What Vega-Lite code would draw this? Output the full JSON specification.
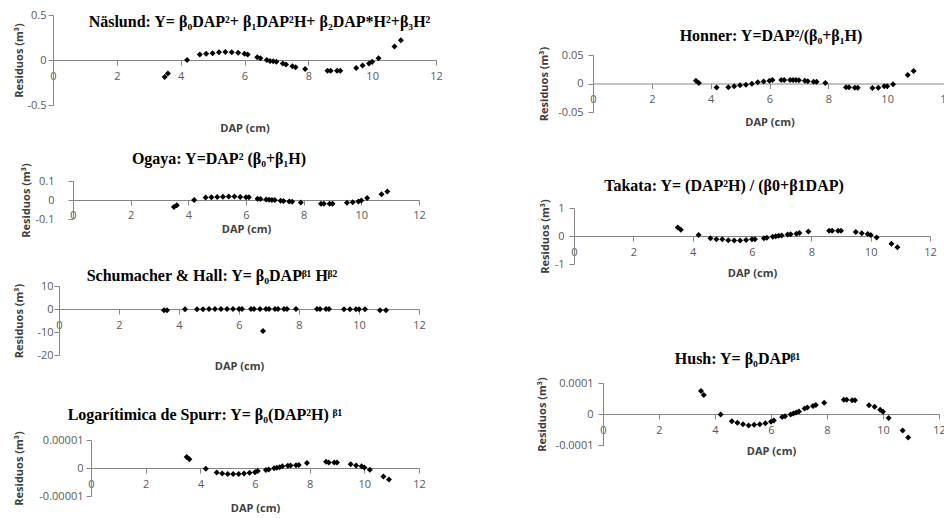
{
  "$schema": "https://vega.github.io/schema/vega-lite/v6.json",
  "background": "white",
  "padding": {"left": 13, "top": 9, "right": 0, "bottom": 0},
  "datasets": {
    "naslund": [
      {"DAP": 3.5, "r": -0.19}, {"DAP": 3.6, "r": -0.15}, {"DAP": 4.2, "r": 0.0}, {"DAP": 4.6, "r": 0.06},
      {"DAP": 4.8, "r": 0.07}, {"DAP": 5.0, "r": 0.075}, {"DAP": 5.2, "r": 0.085}, {"DAP": 5.4, "r": 0.09},
      {"DAP": 5.6, "r": 0.085}, {"DAP": 5.8, "r": 0.08}, {"DAP": 6.0, "r": 0.07}, {"DAP": 6.1, "r": 0.06},
      {"DAP": 6.4, "r": 0.03}, {"DAP": 6.5, "r": 0.02}, {"DAP": 6.7, "r": 0.0}, {"DAP": 6.8, "r": -0.01},
      {"DAP": 6.9, "r": -0.015}, {"DAP": 7.0, "r": -0.02}, {"DAP": 7.2, "r": -0.04}, {"DAP": 7.3, "r": -0.05},
      {"DAP": 7.5, "r": -0.07}, {"DAP": 7.6, "r": -0.08}, {"DAP": 7.9, "r": -0.1}, {"DAP": 8.6, "r": -0.12},
      {"DAP": 8.7, "r": -0.12}, {"DAP": 8.9, "r": -0.12}, {"DAP": 9.0, "r": -0.12}, {"DAP": 9.5, "r": -0.09},
      {"DAP": 9.7, "r": -0.06}, {"DAP": 9.9, "r": -0.04}, {"DAP": 10.0, "r": -0.02}, {"DAP": 10.2, "r": 0.02},
      {"DAP": 10.7, "r": 0.15}, {"DAP": 10.9, "r": 0.22}
    ],
    "ogaya": [
      {"DAP": 3.5, "r": -0.037}, {"DAP": 3.6, "r": -0.027}, {"DAP": 4.2, "r": 0.0}, {"DAP": 4.6, "r": 0.013},
      {"DAP": 4.8, "r": 0.014}, {"DAP": 5.0, "r": 0.016}, {"DAP": 5.2, "r": 0.017}, {"DAP": 5.4, "r": 0.018},
      {"DAP": 5.6, "r": 0.018}, {"DAP": 5.8, "r": 0.016}, {"DAP": 6.0, "r": 0.015}, {"DAP": 6.1, "r": 0.014},
      {"DAP": 6.4, "r": 0.007}, {"DAP": 6.5, "r": 0.005}, {"DAP": 6.7, "r": 0.003}, {"DAP": 6.8, "r": 0.001},
      {"DAP": 6.9, "r": 0.0}, {"DAP": 7.0, "r": 0.0}, {"DAP": 7.2, "r": -0.004}, {"DAP": 7.3, "r": -0.005},
      {"DAP": 7.5, "r": -0.008}, {"DAP": 7.6, "r": -0.009}, {"DAP": 7.9, "r": -0.013}, {"DAP": 8.6, "r": -0.02},
      {"DAP": 8.7, "r": -0.02}, {"DAP": 8.9, "r": -0.02}, {"DAP": 9.0, "r": -0.02}, {"DAP": 9.5, "r": -0.015},
      {"DAP": 9.7, "r": -0.012}, {"DAP": 9.9, "r": -0.008}, {"DAP": 10.0, "r": -0.003}, {"DAP": 10.2, "r": 0.01},
      {"DAP": 10.7, "r": 0.03}, {"DAP": 10.9, "r": 0.045}
    ],
    "schumacher": [
      {"DAP": 3.5, "r": -0.5}, {"DAP": 3.6, "r": -0.5}, {"DAP": 4.2, "r": -0.1}, {"DAP": 4.6, "r": -0.1},
      {"DAP": 4.8, "r": -0.1}, {"DAP": 5.0, "r": -0.05}, {"DAP": 5.2, "r": 0.0}, {"DAP": 5.4, "r": 0.05},
      {"DAP": 5.6, "r": 0.05}, {"DAP": 5.8, "r": 0.05}, {"DAP": 6.0, "r": 0.05}, {"DAP": 6.1, "r": 0.0},
      {"DAP": 6.4, "r": 0.0}, {"DAP": 6.5, "r": 0.0}, {"DAP": 6.7, "r": 0.0}, {"DAP": 6.8, "r": -9.6},
      {"DAP": 6.9, "r": 0.0}, {"DAP": 7.0, "r": 0.0}, {"DAP": 7.2, "r": 0.0}, {"DAP": 7.3, "r": 0.0},
      {"DAP": 7.5, "r": 0.0}, {"DAP": 7.6, "r": 0.0}, {"DAP": 7.9, "r": 0.0}, {"DAP": 8.6, "r": 0.0},
      {"DAP": 8.7, "r": 0.0}, {"DAP": 8.9, "r": 0.0}, {"DAP": 9.0, "r": 0.0}, {"DAP": 9.5, "r": -0.1},
      {"DAP": 9.7, "r": -0.1}, {"DAP": 9.9, "r": -0.15}, {"DAP": 10.0, "r": -0.15}, {"DAP": 10.2, "r": -0.15},
      {"DAP": 10.7, "r": -0.5}, {"DAP": 10.9, "r": -0.5}
    ],
    "spurr": [
      {"DAP": 3.5, "r": 3.9e-6}, {"DAP": 3.6, "r": 3.1e-6}, {"DAP": 4.2, "r": -0.3e-6}, {"DAP": 4.6, "r": -1.6e-6},
      {"DAP": 4.8, "r": -2.0e-6}, {"DAP": 5.0, "r": -2.1e-6}, {"DAP": 5.2, "r": -2.1e-6}, {"DAP": 5.4, "r": -2.1e-6},
      {"DAP": 5.6, "r": -2.0e-6}, {"DAP": 5.8, "r": -1.7e-6}, {"DAP": 6.0, "r": -1.5e-6}, {"DAP": 6.1, "r": -1.1e-6},
      {"DAP": 6.4, "r": -0.7e-6}, {"DAP": 6.5, "r": -0.5e-6}, {"DAP": 6.7, "r": -0.1e-6}, {"DAP": 6.8, "r": 0.1e-6},
      {"DAP": 6.9, "r": 0.3e-6}, {"DAP": 7.0, "r": 0.6e-6}, {"DAP": 7.2, "r": 0.8e-6}, {"DAP": 7.3, "r": 0.9e-6},
      {"DAP": 7.5, "r": 1.0e-6}, {"DAP": 7.6, "r": 1.1e-6}, {"DAP": 7.9, "r": 1.8e-6}, {"DAP": 8.6, "r": 2.2e-6},
      {"DAP": 8.7, "r": 2.0e-6}, {"DAP": 8.9, "r": 2.0e-6}, {"DAP": 9.0, "r": 2.0e-6}, {"DAP": 9.5, "r": 1.3e-6},
      {"DAP": 9.7, "r": 0.9e-6}, {"DAP": 9.9, "r": 0.6e-6}, {"DAP": 10.0, "r": 0.2e-6}, {"DAP": 10.2, "r": -0.6e-6},
      {"DAP": 10.7, "r": -3.0e-6}, {"DAP": 10.9, "r": -4.1e-6}
    ],
    "honner": [
      {"DAP": 3.5, "r": 0.0047}, {"DAP": 3.6, "r": 0.001}, {"DAP": 4.2, "r": -0.007}, {"DAP": 4.6, "r": -0.0065},
      {"DAP": 4.8, "r": -0.005}, {"DAP": 5.0, "r": -0.003}, {"DAP": 5.2, "r": -0.002}, {"DAP": 5.4, "r": -0.0006},
      {"DAP": 5.6, "r": 0.002}, {"DAP": 5.8, "r": 0.0035}, {"DAP": 6.0, "r": 0.0047}, {"DAP": 6.1, "r": 0.006},
      {"DAP": 6.4, "r": 0.006}, {"DAP": 6.5, "r": 0.006}, {"DAP": 6.7, "r": 0.006}, {"DAP": 6.8, "r": 0.006},
      {"DAP": 6.9, "r": 0.006}, {"DAP": 7.0, "r": 0.0055}, {"DAP": 7.2, "r": 0.005}, {"DAP": 7.3, "r": 0.004},
      {"DAP": 7.5, "r": 0.003}, {"DAP": 7.6, "r": 0.003}, {"DAP": 7.9, "r": 0.001}, {"DAP": 8.6, "r": -0.0065},
      {"DAP": 8.7, "r": -0.0065}, {"DAP": 8.9, "r": -0.0075}, {"DAP": 9.0, "r": -0.0075}, {"DAP": 9.5, "r": -0.008},
      {"DAP": 9.7, "r": -0.0075}, {"DAP": 9.9, "r": -0.005}, {"DAP": 10.0, "r": -0.005}, {"DAP": 10.2, "r": -0.0012},
      {"DAP": 10.7, "r": 0.0147}, {"DAP": 10.9, "r": 0.022}
    ],
    "takata": [
      {"DAP": 3.5, "r": 0.3}, {"DAP": 3.6, "r": 0.22}, {"DAP": 4.2, "r": 0.04}, {"DAP": 4.6, "r": -0.08},
      {"DAP": 4.8, "r": -0.12}, {"DAP": 5.0, "r": -0.12}, {"DAP": 5.2, "r": -0.15}, {"DAP": 5.4, "r": -0.16},
      {"DAP": 5.6, "r": -0.16}, {"DAP": 5.8, "r": -0.14}, {"DAP": 6.0, "r": -0.12}, {"DAP": 6.1, "r": -0.12},
      {"DAP": 6.4, "r": -0.08}, {"DAP": 6.5, "r": -0.06}, {"DAP": 6.7, "r": -0.03}, {"DAP": 6.8, "r": -0.01},
      {"DAP": 6.9, "r": 0.01}, {"DAP": 7.0, "r": 0.02}, {"DAP": 7.2, "r": 0.05}, {"DAP": 7.3, "r": 0.06},
      {"DAP": 7.5, "r": 0.08}, {"DAP": 7.6, "r": 0.11}, {"DAP": 7.9, "r": 0.16}, {"DAP": 8.6, "r": 0.19},
      {"DAP": 8.7, "r": 0.19}, {"DAP": 8.9, "r": 0.19}, {"DAP": 9.0, "r": 0.19}, {"DAP": 9.5, "r": 0.14},
      {"DAP": 9.7, "r": 0.1}, {"DAP": 9.9, "r": 0.07}, {"DAP": 10.0, "r": 0.04}, {"DAP": 10.2, "r": -0.05},
      {"DAP": 10.7, "r": -0.28}, {"DAP": 10.9, "r": -0.4}
    ],
    "hush": [
      {"DAP": 3.5, "r": 7.4e-5}, {"DAP": 3.6, "r": 6.1e-5}, {"DAP": 4.2, "r": -0.2e-5}, {"DAP": 4.6, "r": -2.3e-5},
      {"DAP": 4.8, "r": -2.8e-5}, {"DAP": 5.0, "r": -3.3e-5}, {"DAP": 5.2, "r": -3.7e-5}, {"DAP": 5.4, "r": -3.5e-5},
      {"DAP": 5.6, "r": -3.3e-5}, {"DAP": 5.8, "r": -3.0e-5}, {"DAP": 6.0, "r": -2.5e-5}, {"DAP": 6.1, "r": -2.1e-5},
      {"DAP": 6.4, "r": -1.0e-5}, {"DAP": 6.5, "r": -0.7e-5}, {"DAP": 6.7, "r": -0.2e-5}, {"DAP": 6.8, "r": 0.2e-5},
      {"DAP": 6.9, "r": 0.5e-5}, {"DAP": 7.0, "r": 0.8e-5}, {"DAP": 7.2, "r": 1.8e-5}, {"DAP": 7.3, "r": 2.1e-5},
      {"DAP": 7.5, "r": 2.6e-5}, {"DAP": 7.6, "r": 2.9e-5}, {"DAP": 7.9, "r": 3.6e-5}, {"DAP": 8.6, "r": 4.6e-5},
      {"DAP": 8.7, "r": 4.6e-5}, {"DAP": 8.9, "r": 4.4e-5}, {"DAP": 9.0, "r": 4.4e-5}, {"DAP": 9.5, "r": 2.8e-5},
      {"DAP": 9.7, "r": 2.3e-5}, {"DAP": 9.9, "r": 1.4e-5}, {"DAP": 10.0, "r": 0.7e-5}, {"DAP": 10.2, "r": -1.3e-5},
      {"DAP": 10.7, "r": -5.3e-5}, {"DAP": 10.9, "r": -7.6e-5}
    ]
  },
  "columns": 2,
  "align": "none",
  "spacing": 93,
  "concat": [
    {
      "columns": 1,
      "align": "none",
      "spacing": 17,
      "concat": [
        {
          "title": {"text": "Näslund: Y= β₀DAP²+ β₁DAP²H+ β₂DAP*H²+β₃H²", "offset": -21, "dx": 15},
          "width": 383, "height": 90,
          "data": {"name": "naslund"},
          "mark": {"type": "point"},
          "encoding": {
            "x": {"field": "DAP", "type": "quantitative", "scale": {"domain": [0, 12], "nice": false, "zero": false},
              "axis": {"values": [0, 2, 4, 6, 8, 10, 12], "offset": -45, "labelPadding": 5, "titlePadding": 41, "title": "DAP (cm)"}},
            "y": {"field": "r", "type": "quantitative", "scale": {"domain": [-0.5, 0.5], "nice": false, "zero": false},
              "axis": {"values": [-0.5, 0, 0.5], "format": "~f", "labelExpr": "replace(datum.label, '−', '-')", "labelPadding": 2, "titlePadding": 2, "title": "Residuos (m³)"}}
          }
        },
        {
          "columns": 1,
          "align": "none",
          "spacing": 30,
          "concat": [
            {
              "title": {"text": "Ogaya: Y=DAP²  (β₀+β₁H)", "offset": -4, "dx": -17},
              "width": 366, "height": 38,
              "data": {"name": "ogaya"},
              "mark": {"type": "point"},
              "encoding": {
                "x": {"field": "DAP", "type": "quantitative", "scale": {"domain": [0, 12], "range": [20, 366], "nice": false, "zero": false},
                  "axis": {"values": [0, 2, 4, 6, 8, 10, 12], "offset": -19, "labelPadding": 4, "titlePadding": 3, "title": "DAP (cm)"}},
                "y": {"field": "r", "type": "quantitative", "scale": {"domain": [-0.1, 0.1], "nice": false, "zero": false},
                  "axis": {"values": [-0.1, 0, 0.1], "format": "~f", "labelExpr": "replace(datum.label, '−', '-')", "offset": -20, "labelPadding": 14, "titlePadding": 3, "title": "Residuos (m³)"}}
              }
            },
            {
              "columns": 1,
              "align": "none",
              "spacing": 35,
              "concat": [
                {
                  "title": {"text": "Schumacher  & Hall: Y= β₀DAPᵝ¹ Hᵝ²", "offset": -4, "dx": -24},
                  "width": 366, "height": 69,
                  "data": {"name": "schumacher"},
                  "mark": {"type": "point"},
                  "encoding": {
                    "x": {"field": "DAP", "type": "quantitative", "scale": {"domain": [0, 12], "range": [6, 366], "nice": false, "zero": false},
                      "axis": {"values": [0, 2, 4, 6, 8, 10, 12], "offset": -46, "labelPadding": 5, "titlePadding": 30, "title": "DAP (cm)"}},
                    "y": {"field": "r", "type": "quantitative", "scale": {"domain": [-20, 10], "nice": false, "zero": false},
                      "axis": {"values": [-20, -10, 0, 10], "format": "~f", "labelExpr": "replace(datum.label, '−', '-')", "offset": -6, "labelPadding": 1, "titlePadding": 12, "title": "Residuos (m³)"}}
                  }
                },
                {
                  "title": {"text": "Logarítimica  de Spurr: Y= β₀(DAP²H) ᵝ¹", "offset": 8, "dx": -31},
                  "width": 366, "height": 56,
                  "data": {"name": "spurr"},
                  "mark": {"type": "point"},
                  "encoding": {
                    "x": {"field": "DAP", "type": "quantitative", "scale": {"domain": [0, 12], "range": [38, 366], "nice": false, "zero": false},
                      "axis": {"values": [0, 2, 4, 6, 8, 10, 12], "offset": -28, "labelPadding": 5, "titlePadding": 13, "title": "DAP (cm)"}},
                    "y": {"field": "r", "type": "quantitative", "scale": {"domain": [-0.00001, 0.00001], "nice": false, "zero": false},
                      "axis": {"values": [-0.00001, 0, 0.00001], "format": "~f", "labelExpr": "replace(datum.label, '−', '-')", "offset": -38, "labelPadding": 3, "titlePadding": 14, "title": "Residuos (m³)"}}
                  }
                }
              ]
            }
          ]
        }
      ]
    },
    {
      "columns": 1,
      "align": "none",
      "spacing": 49,
      "concat": [
        {
          "title": {"text": "Honner: Y=DAP²/(β₀+β₁H)", "offset": -29, "dx": 11},
          "width": 372, "height": 97,
          "data": {"name": "honner"},
          "mark": {"type": "point"},
          "encoding": {
            "x": {"field": "DAP", "type": "quantitative", "scale": {"domain": [0, 12], "range": [19, 372], "nice": false, "zero": false},
              "axis": {"values": [0, 2, 4, 6, 8, 10, 12], "offset": -28.5, "labelPadding": 5, "titlePadding": 12, "title": "DAP (cm)"}},
            "y": {"field": "r", "type": "quantitative", "scale": {"domain": [-0.05, 0.05], "range": [97, 40], "nice": false, "zero": false},
              "axis": {"values": [-0.05, 0, 0.05], "format": "~f", "labelExpr": "replace(datum.label, '−', '-')", "offset": -19, "labelPadding": 5, "titlePadding": 8, "title": "Residuos (m³)"}}
          }
        },
        {
          "columns": 1,
          "align": "none",
          "spacing": 72,
          "concat": [
            {
              "title": {"text": "Takata: Y= (DAP²H) / (β0+β1DAP)", "offset": 5, "dx": -28},
              "width": 356, "height": 56,
              "data": {"name": "takata"},
              "mark": {"type": "point"},
              "encoding": {
                "x": {"field": "DAP", "type": "quantitative", "scale": {"domain": [0, 12], "nice": false, "zero": false},
                  "axis": {"values": [0, 2, 4, 6, 8, 10, 12], "offset": -28, "labelPadding": 5, "titlePadding": 10, "title": "DAP (cm)"}},
                "y": {"field": "r", "type": "quantitative", "scale": {"domain": [-1, 1], "nice": false, "zero": false},
                  "axis": {"values": [-1, 0, 1], "format": "~f", "labelExpr": "replace(datum.label, '−', '-')", "labelPadding": 5, "titlePadding": 4, "title": "Residuos (m³)"}}
              }
            },
            {
              "title": {"text": "Hush: Y= β₀DAPᵝ¹", "offset": 10, "dx": -19},
              "width": 365, "height": 62,
              "data": {"name": "hush"},
              "mark": {"type": "point"},
              "encoding": {
                "x": {"field": "DAP", "type": "quantitative", "scale": {"domain": [0, 12], "range": [29, 365], "nice": false, "zero": false},
                  "axis": {"values": [0, 2, 4, 6, 8, 10, 12], "offset": -31, "labelPadding": 5, "titlePadding": 10, "title": "DAP (cm)"}},
                "y": {"field": "r", "type": "quantitative", "scale": {"domain": [-0.0001, 0.0001], "nice": false, "zero": false},
                  "axis": {"values": [-0.0001, 0, 0.0001], "format": "~f", "labelExpr": "replace(datum.label, '−', '-')", "offset": -29, "labelPadding": 5, "titlePadding": 8, "title": "Residuos (m³)"}}
              }
            }
          ]
        }
      ]
    }
  ],
  "config": {
    "view": {"stroke": null},
    "axis": {
      "grid": false, "domainColor": "#868686", "tickColor": "#868686", "tickSize": 5,
      "labelFont": "Open Sans", "labelFontSize": 11, "labelColor": "#595959",
      "titleFont": "Open Sans", "titleFontSize": 11, "titleFontWeight": "bold", "titleColor": "#404040",
      "labelFlush": false, "labelOverlap": false, "labelBound": false
    },
    "title": {"font": "Liberation Serif", "fontSize": 16, "fontWeight": "bold", "color": "#000000", "anchor": "middle", "frame": "group"},
    "point": {"shape": "diamond", "filled": true, "color": "#000000", "size": 36, "opacity": 1}
  }
}
